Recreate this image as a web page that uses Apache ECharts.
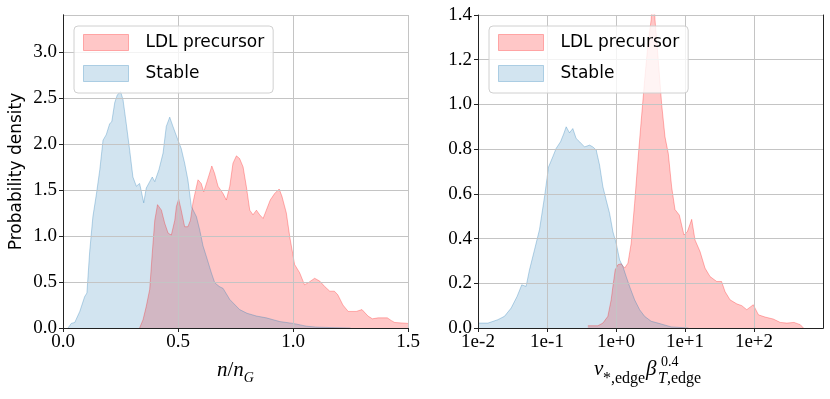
<!DOCTYPE html>
<html>
<head>
<meta charset="utf-8">
<script src="https://cdn.jsdelivr.net/npm/echarts@6.0.0/dist/echarts.min.js"></script>
<style>
  html, body { margin: 0; padding: 0; background: #fff; }
  #chart { width: 830px; height: 399px; }
</style>
</head>
<body>
<div id="chart"></div>
<script>
// left panel: n / n_G
const nLdlX = [0.333, 0.348, 0.362, 0.377, 0.388, 0.399, 0.411, 0.428, 0.442, 0.457, 0.471, 0.486, 0.493, 0.503, 0.514, 0.529, 0.543, 0.554, 0.565, 0.577, 0.587, 0.601, 0.612, 0.626, 0.647, 0.659, 0.674, 0.696, 0.71, 0.725, 0.739, 0.754, 0.768, 0.783, 0.797, 0.812, 0.826, 0.841, 0.855, 0.87, 0.884, 0.901, 0.92, 0.94, 0.952, 0.971, 0.986, 1.007, 1.029, 1.05, 1.065, 1.094, 1.116, 1.138, 1.16, 1.18, 1.195, 1.217, 1.24, 1.275, 1.3, 1.326, 1.345, 1.37, 1.41, 1.428, 1.442, 1.5];
const nLdlY = [0, 0.09, 0.235, 0.42, 0.81, 1.17, 1.34, 1.28, 1.14, 1.03, 1.01, 1.17, 1.32, 1.4, 1.28, 1.1, 1.1, 1.17, 1.36, 1.5, 1.61, 1.57, 1.48, 1.59, 1.76, 1.68, 1.54, 1.46, 1.39, 1.54, 1.79, 1.87, 1.84, 1.75, 1.54, 1.28, 1.23, 1.28, 1.23, 1.19, 1.28, 1.39, 1.46, 1.51, 1.43, 1.25, 0.99, 0.69, 0.6, 0.47, 0.49, 0.54, 0.51, 0.45, 0.4, 0.4, 0.36, 0.25, 0.18, 0.18, 0.2, 0.13, 0.1, 0.11, 0.11, 0.08, 0.06, 0.05];
const nStableX = [0.022, 0.036, 0.051, 0.073, 0.094, 0.104, 0.116, 0.13, 0.145, 0.16, 0.174, 0.188, 0.203, 0.212, 0.225, 0.236, 0.25, 0.261, 0.275, 0.29, 0.304, 0.319, 0.333, 0.341, 0.351, 0.362, 0.377, 0.388, 0.399, 0.417, 0.435, 0.449, 0.464, 0.478, 0.5, 0.514, 0.529, 0.543, 0.558, 0.572, 0.58, 0.594, 0.609, 0.623, 0.645, 0.66, 0.68, 0.696, 0.725, 0.768, 0.8, 0.841, 0.884, 0.942, 1.0, 1.058, 1.1, 1.16, 1.25];
const nStableY = [0, 0.05, 0.06, 0.18, 0.34, 0.38, 0.83, 1.21, 1.45, 1.72, 2.04, 2.1, 2.22, 2.24, 2.45, 2.53, 2.57, 2.48, 2.22, 1.93, 1.64, 1.54, 1.57, 1.48, 1.36, 1.52, 1.59, 1.64, 1.59, 1.72, 1.9, 2.19, 2.29, 2.19, 2.04, 1.95, 1.79, 1.61, 1.32, 1.25, 1.21, 1.07, 0.89, 0.78, 0.6, 0.49, 0.45, 0.43, 0.31, 0.2, 0.16, 0.13, 0.11, 0.07, 0.05, 0.02, 0.01, 0.005, 0];

// right panel: nu*_edge beta_T,edge^0.4, x read as powers of ten
const nuLdlExp = [-0.408, -0.263, -0.19, -0.118, -0.07, -0.045, -0.012, 0.028, 0.075, 0.125, 0.173, 0.22, 0.27, 0.318, 0.366, 0.415, 0.463, 0.51, 0.538, 0.565, 0.613, 0.662, 0.71, 0.758, 0.807, 0.855, 0.918, 0.985, 1.033, 1.097, 1.145, 1.218, 1.29, 1.363, 1.46, 1.53, 1.58, 1.653, 1.75, 1.823, 1.895, 1.99, 2.064, 2.16, 2.28, 2.38, 2.476, 2.58, 2.67, 2.717];
const nuLdlY = [0.01, 0.01, 0.022, 0.052, 0.126, 0.186, 0.26, 0.283, 0.287, 0.268, 0.29, 0.379, 0.558, 0.751, 0.93, 1.108, 1.27, 1.38, 1.55, 1.38, 1.197, 1.0, 0.855, 0.78, 0.63, 0.53, 0.505, 0.416, 0.43, 0.486, 0.394, 0.342, 0.268, 0.23, 0.208, 0.208, 0.163, 0.126, 0.108, 0.1, 0.082, 0.104, 0.059, 0.049, 0.04, 0.025, 0.022, 0.025, 0.015, 0];
const nuStableExp = [-2.0, -1.855, -1.714, -1.617, -1.52, -1.434, -1.366, -1.303, -1.254, -1.181, -1.109, -1.036, -0.978, -0.916, -0.868, -0.804, -0.756, -0.722, -0.674, -0.626, -0.578, -0.528, -0.456, -0.383, -0.335, -0.287, -0.238, -0.19, -0.142, -0.093, -0.045, 0.003, 0.052, 0.1, 0.148, 0.197, 0.27, 0.342, 0.415, 0.51, 0.608, 0.8, 1.05];
const nuStableY = [0.022, 0.022, 0.037, 0.052, 0.089, 0.141, 0.193, 0.186, 0.26, 0.35, 0.44, 0.587, 0.72, 0.766, 0.803, 0.833, 0.87, 0.9, 0.873, 0.892, 0.848, 0.833, 0.81, 0.818, 0.81, 0.796, 0.729, 0.632, 0.572, 0.513, 0.431, 0.379, 0.305, 0.275, 0.23, 0.186, 0.126, 0.082, 0.052, 0.03, 0.022, 0.005, 0];

const logTickLabels = ["1e-2", "1e-1", "1e+0", "1e+1", "1e+2", "1e+3"];
const seriesNames = ["LDL precursor", "Stable"];

const pinkFill = "rgba(255,0,0,0.22)";
const pinkEdge = "rgba(255,0,0,0.28)";
const blueFill = "rgba(31,119,180,0.2)";
const blueEdge = "rgba(31,119,180,0.3)";

function pairs(xs, ys) {
  return xs.map((x, i) => [x, ys[i]]);
}
function logPairs(exps, ys) {
  return exps.map((e, i) => [Math.pow(10, e), ys[i]]);
}

var tickFont = { fontFamily: "Liberation Serif", fontSize: 19, color: "#000" };
var gridLine = { show: true, lineStyle: { color: "#c4c4c4", width: 1 } };
var spine = { show: true, lineStyle: { color: "#222", width: 1 } };
var tick = { show: true, inside: false, length: 4, lineStyle: { color: "#222" } };

function frameAxis(grid, pos) {
  return {
    type: "value", gridIndex: grid, position: pos, min: 0, max: 1, z: 3,
    axisLine: spine, axisTick: { show: false }, axisLabel: { show: false }, splitLine: { show: false }
  };
}

function legendFor(left) {
  return {
    orient: "vertical", left: left, top: 26,
    padding: [8, 9, 11, 9], itemGap: 14, itemWidth: 45, itemHeight: 16,
    icon: "rect",
    backgroundColor: "rgba(255,255,255,0.8)", borderColor: "#d0d0d0", borderWidth: 1, borderRadius: 4,
    textStyle: { fontFamily: "DejaVu Sans", fontSize: 17, color: "#000", padding: [0, 0, 0, 12] },
    data: [
      { name: seriesNames[0], itemStyle: { color: pinkFill, borderColor: pinkEdge, borderWidth: 1 } },
      { name: seriesNames[1], itemStyle: { color: blueFill, borderColor: blueEdge, borderWidth: 1 } }
    ]
  };
}

function area(name, xi, yi, data, fill, edge) {
  return {
    name: name, type: "line", xAxisIndex: xi, yAxisIndex: yi, data: data,
    symbol: "none", smooth: false, z: 2, clip: true,
    itemStyle: { color: fill },
    lineStyle: { color: edge, width: 1 },
    areaStyle: { color: fill, opacity: 1 },
    emphasis: { disabled: true }
  };
}

// pieces of the right x-axis title (math with stacked super/subscript)
function mathText(str, x, y, size, italic) {
  return {
    type: "text", x: x, y: y, z: 10,
    style: {
      text: str, fontFamily: "Liberation Serif", fontSize: size,
      fontStyle: italic ? "italic" : "normal", fill: "#000",
      align: "left", verticalAlign: "middle"
    }
  };
}

var MyChart = echarts.init(document.getElementById("chart"));
var option = {
  animation: false,
  backgroundColor: "#fff",
  grid: [
    { left: 63, top: 15, width: 345, height: 313 },
    { left: 478, top: 15, width: 345, height: 313 }
  ],
  legend: [legendFor(74), legendFor(489)],
  xAxis: [
    {
      type: "value", gridIndex: 0, min: 0, max: 1.5, interval: 0.5, position: "bottom", z: 3,
      axisLine: spine, axisTick: tick, splitLine: gridLine,
      axisLabel: Object.assign({ margin: 5, formatter: (v) => v.toFixed(1) }, tickFont),
      name: "{i|n}{r|/}{i|n}{s|G}", nameLocation: "middle", nameGap: 28,
      nameTextStyle: {
        rich: {
          i: { fontFamily: "Liberation Serif", fontStyle: "italic", fontSize: 21, lineHeight: 24, color: "#000" },
          r: { fontFamily: "Liberation Serif", fontSize: 21, lineHeight: 24, color: "#000" },
          s: { fontFamily: "Liberation Serif", fontStyle: "italic", fontSize: 14, lineHeight: 24, color: "#000", padding: [14, 0, 0, 0] }
        }
      }
    },
    frameAxis(0, "top"),
    {
      type: "log", logBase: 10, gridIndex: 1, min: 0.01, max: 1000, position: "bottom", z: 3,
      axisLine: spine, axisTick: tick, splitLine: gridLine, minorTick: { show: false },
      axisLabel: Object.assign({
        margin: 5, showMaxLabel: false,
        formatter: (v) => logTickLabels[Math.round(Math.log10(v)) + 2]
      }, tickFont)
    },
    frameAxis(1, "top")
  ],
  yAxis: [
    {
      type: "value", gridIndex: 0, min: 0, max: 3.4, interval: 0.5, z: 3,
      axisLine: spine, axisTick: tick, splitLine: gridLine,
      axisLabel: Object.assign({ margin: 6, showMaxLabel: false, formatter: (v) => v.toFixed(1) }, tickFont),
      name: "Probability density", nameLocation: "middle", nameGap: 38,
      nameTextStyle: { fontFamily: "DejaVu Sans", fontSize: 17, color: "#000" }
    },
    frameAxis(0, "right"),
    {
      type: "value", gridIndex: 1, min: 0, max: 1.4, interval: 0.2, z: 3,
      axisLine: spine, axisTick: tick, splitLine: gridLine,
      axisLabel: Object.assign({ margin: 6, formatter: (v) => v.toFixed(1) }, tickFont)
    },
    frameAxis(1, "right")
  ],
  graphic: [
    mathText("ν", 594, 369, 21, true),
    mathText("*,edge", 603, 379, 16, false),
    mathText("β", 646, 369, 21, true),
    mathText("0.4", 661, 362, 14, false),
    mathText("T", 658, 379, 16, true),
    mathText(",edge", 667, 379, 16, false)
  ],
  series: [
    area(seriesNames[0], 0, 0, pairs(nLdlX, nLdlY), pinkFill, pinkEdge),
    area(seriesNames[1], 0, 0, pairs(nStableX, nStableY), blueFill, blueEdge),
    area(seriesNames[0], 2, 2, logPairs(nuLdlExp, nuLdlY), pinkFill, pinkEdge),
    area(seriesNames[1], 2, 2, logPairs(nuStableExp, nuStableY), blueFill, blueEdge)
  ]
};
MyChart.setOption(option);
</script>
</body>
</html>
